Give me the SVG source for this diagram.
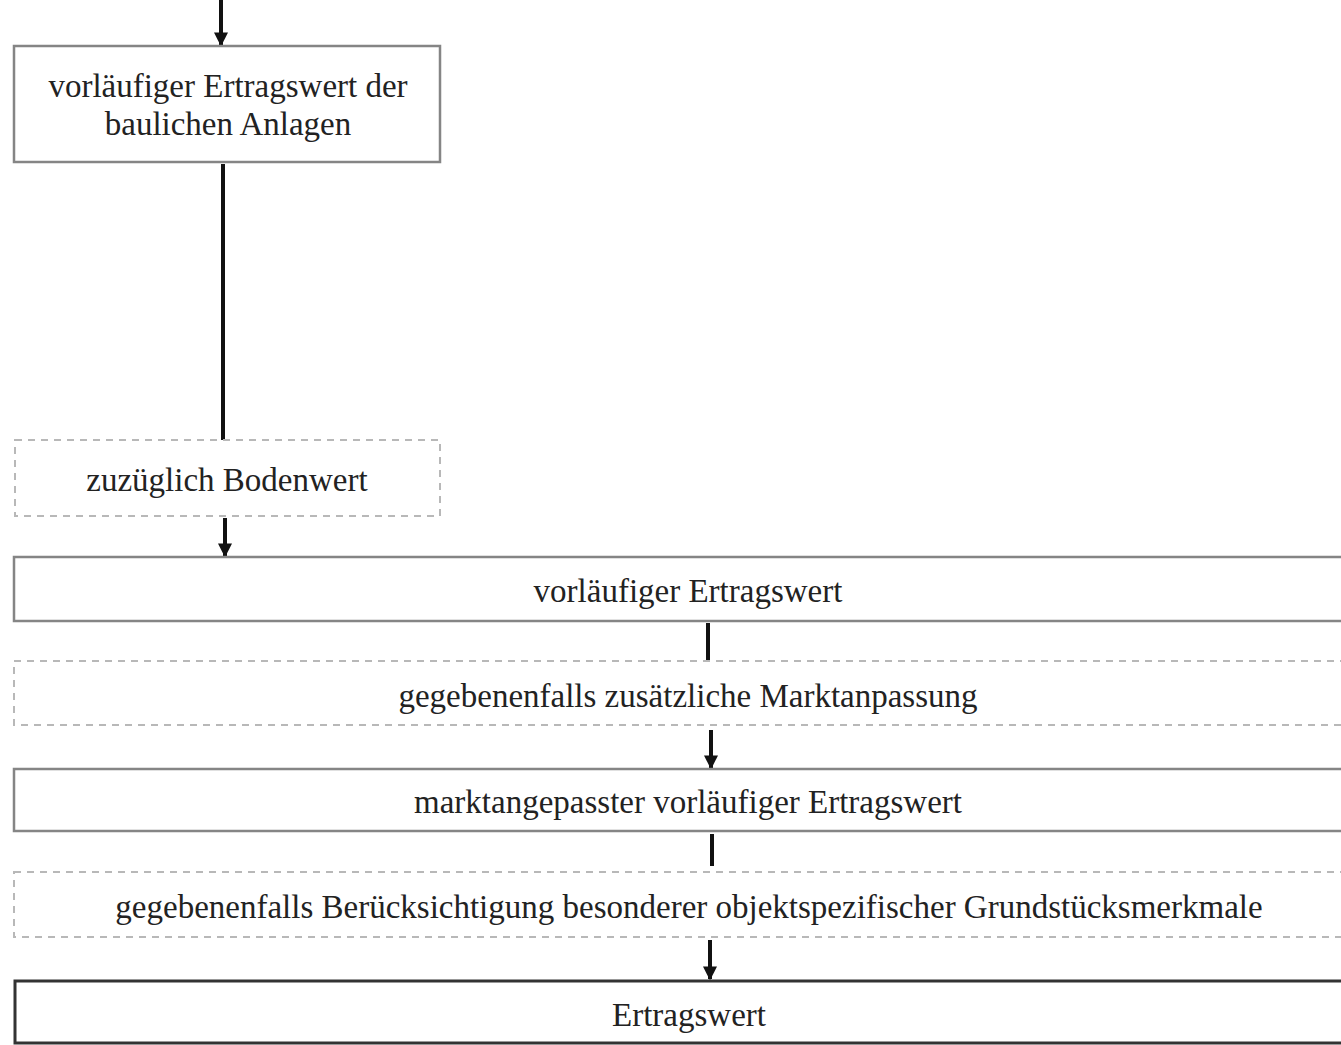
<svg xmlns="http://www.w3.org/2000/svg" width="1341" height="1045" viewBox="0 0 1341 1045">
<style>
text{font-family:"Liberation Serif","Times New Roman",serif;font-size:33px;fill:#222;text-anchor:middle}
.box{fill:#fff;stroke:#858585;stroke-width:2.5}
.dash{fill:#fff;stroke:#b8b8b8;stroke-width:2;stroke-dasharray:7 6}
.final{fill:#fff;stroke:#333;stroke-width:3}
.line{stroke:#111;stroke-width:4;fill:none}
</style>
<defs>
<marker id="ah" viewBox="0 0 10 10" refX="9" refY="5" markerWidth="3.5" markerHeight="3.5" orient="auto" markerUnits="strokeWidth">
<path d="M0,0 L10,5 L0,10 Z" fill="#111"/>
</marker>
</defs>
<g id="connectors">
<line class="line" x1="221" y1="0" x2="221" y2="45" marker-end="url(#ah)"/>
<line class="line" x1="223" y1="164" x2="223" y2="440"/>
<line class="line" x1="225" y1="518" x2="225" y2="556" marker-end="url(#ah)"/>
<line class="line" x1="708" y1="623" x2="708" y2="660"/>
<line class="line" x1="711" y1="730" x2="711" y2="768" marker-end="url(#ah)"/>
<line class="line" x1="712" y1="834" x2="712" y2="866"/>
<line class="line" x1="710" y1="940" x2="710" y2="979" marker-end="url(#ah)"/>
</g>
<g id="n1">
<rect class="box" x="14" y="46" width="426" height="116"/>
<text x="228" y="97">vorläufiger Ertragswert der</text>
<text x="228" y="135">baulichen Anlagen</text>
</g>
<g id="n2">
<rect class="dash" x="15" y="440" width="425" height="76"/>
<text x="227" y="491">zuzüglich Bodenwert</text>
</g>
<g id="n3">
<rect class="box" x="14" y="557" width="1340" height="64"/>
<text x="688" y="602">vorläufiger Ertragswert</text>
</g>
<g id="n4">
<rect class="dash" x="14" y="661" width="1340" height="64"/>
<text x="688" y="707">gegebenenfalls zusätzliche Marktanpassung</text>
</g>
<g id="n5">
<rect class="box" x="14" y="769" width="1340" height="62"/>
<text x="688" y="813">marktangepasster vorläufiger Ertragswert</text>
</g>
<g id="n6">
<rect class="dash" x="14" y="872" width="1340" height="65"/>
<text x="689" y="918">gegebenenfalls Berücksichtigung besonderer objektspezifischer Grundstücksmerkmale</text>
</g>
<g id="n7">
<rect class="final" x="15" y="981" width="1340" height="62"/>
<text x="689" y="1026">Ertragswert</text>
</g>
</svg>
